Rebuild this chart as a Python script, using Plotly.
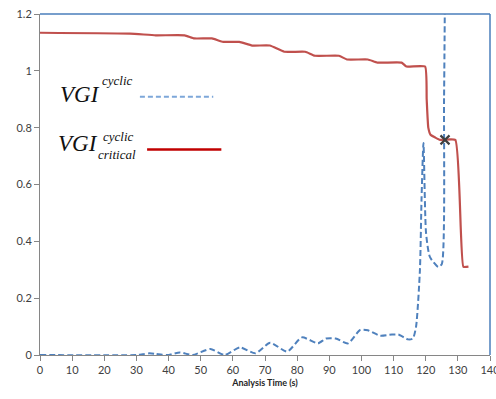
import plotly.graph_objects as go

# Data
t_critical = [0, 28, 36, 45, 48, 53.5, 57, 62, 66, 71.5, 76, 82.5, 85.5, 93, 95.5, 102,
              105, 112.5, 114, 119.8, 120.3, 120.8, 121.5, 123, 124.5, 129.2, 131.7, 133.3]
vgi_critical = [1.134, 1.131, 1.125, 1.125, 1.114, 1.114, 1.102, 1.102, 1.089, 1.089, 1.067, 1.067,
                1.053, 1.053, 1.040, 1.040, 1.029, 1.029, 1.015, 1.015, 0.90, 0.80, 0.775, 0.765,
                0.757, 0.757, 0.311, 0.311]

t_cyclic = [0, 30, 32, 34, 36, 38, 40, 43.5, 47.5, 53, 57.5, 62.2, 67, 71.6, 76.9, 81.5, 86.5,
            89, 92, 95.8, 99.6, 102, 105.8, 109.5, 111.5, 114.5, 116, 117, 118.2, 118.7, 119.3,
            120.1, 121.3, 123.9, 125, 125.7, 126]
vgi_cyclic = [0, 0, 0.003, 0.006, 0.004, 0.001, 0, 0.009, 0, 0.021, 0, 0.027, 0.006, 0.043, 0.012,
              0.062, 0.041, 0.058, 0.058, 0.041, 0.088, 0.087, 0.068, 0.072, 0.072, 0.055, 0.058,
              0.10, 0.30, 0.55, 0.746, 0.43, 0.345, 0.31, 0.32, 0.9, 1.3]

t_failure = [126]
vgi_failure = [0.757]

x_ticks = list(range(0, 141, 10))
y_ticks = [0, 0.2, 0.4, 0.6, 0.8, 1, 1.2]
x_title = "Analysis Time (s)"

fig = go.Figure()
fig.add_trace(go.Scatter(x=t_cyclic, y=vgi_cyclic, mode="lines",
                         line=dict(color="#4F81BD", width=2, dash="6px,3px", shape="spline", smoothing=0.6),
                         showlegend=False, hoverinfo="skip"))
fig.add_trace(go.Scatter(x=t_critical, y=vgi_critical, mode="lines",
                         line=dict(color="#C0504D", width=2.2, shape="spline", smoothing=0.4),
                         showlegend=False, hoverinfo="skip"))
fig.add_trace(go.Scatter(x=t_failure, y=vgi_failure, mode="markers",
                         marker=dict(symbol="x-thin", size=9, line=dict(color="#404040", width=2.2)),
                         showlegend=False, hoverinfo="skip"))

axis_font = dict(family="Lato, Liberation Sans, sans-serif", size=11, color="#404040")
fig.update_xaxes(range=[0, 140], tickvals=x_ticks, showgrid=False, zeroline=False, automargin=False,
                 showline=True, linecolor="#868686", linewidth=1, ticks="outside", ticklen=5,
                 tickcolor="#868686", tickfont=axis_font, ticklabeloverflow="allow",
                 title=dict(text="<b>" + x_title + "</b>", font=dict(family="Lato, Liberation Sans, sans-serif", size=9, color="#262626"), standoff=4))
fig.update_yaxes(range=[0, 1.2], tickvals=y_ticks, showgrid=False, zeroline=False, automargin=False,
                 showline=True, linecolor="#868686", linewidth=1, ticks="outside", ticklen=5,
                 tickcolor="#868686", tickfont=axis_font, ticklabeloverflow="allow")

# blue top/right frame
fig.add_shape(type="line", xref="paper", yref="paper", x0=0, x1=1, y0=1, y1=1,
              line=dict(color="#4A7EBB", width=1.5))
fig.add_shape(type="line", xref="paper", yref="paper", x0=1, x1=1, y0=0, y1=1,
              line=dict(color="#4A7EBB", width=1.5))

# custom legend
serif = "Liberation Serif, Times New Roman, serif"
fig.add_annotation(xref="paper", yref="paper", x=0.04, y=0.765, xanchor="left", yanchor="middle",
                   text="<i>VGI</i>", showarrow=False, font=dict(family=serif, size=23, color="#111111"))
fig.add_annotation(xref="paper", yref="paper", x=0.133, y=0.806, xanchor="left", yanchor="middle",
                   text="<i>cyclic</i>", showarrow=False, font=dict(family=serif, size=13, color="#111111"))
fig.add_shape(type="line", xref="paper", yref="paper", x0=0.222, x1=0.385, y0=0.757, y1=0.757,
              line=dict(color="#7DA7D9", width=2, dash="5px,3px"))

fig.add_annotation(xref="paper", yref="paper", x=0.036, y=0.62, xanchor="left", yanchor="middle",
                   text="<i>VGI</i>", showarrow=False, font=dict(family=serif, size=23, color="#111111"))
fig.add_annotation(xref="paper", yref="paper", x=0.135, y=0.64, xanchor="left", yanchor="middle",
                   text="<i>cyclic</i>", showarrow=False, font=dict(family=serif, size=13, color="#111111"))
fig.add_annotation(xref="paper", yref="paper", x=0.125, y=0.589, xanchor="left", yanchor="middle",
                   text="<i>critical</i>", showarrow=False, font=dict(family=serif, size=13, color="#111111"))
fig.add_shape(type="line", xref="paper", yref="paper", x0=0.238, x1=0.403, y0=0.603, y1=0.603,
              line=dict(color="#C00000", width=2.5))

fig.update_layout(width=496, height=399, margin=dict(l=40, r=6, t=14, b=44),
                  paper_bgcolor="white", plot_bgcolor="white", showlegend=False)

fig.write_html("out.html", config={"displayModeBar": False},
               post_script="document.body.style.margin='0';document.body.style.overflow='hidden';")
